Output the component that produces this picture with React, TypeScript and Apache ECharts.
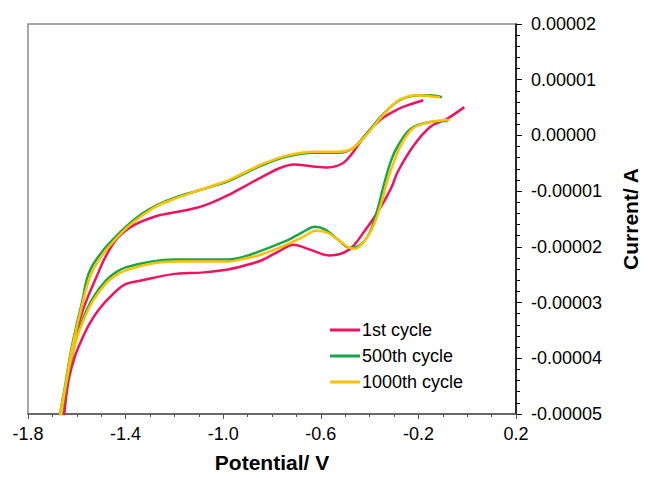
import React, { useEffect, useRef } from "react";
import * as echarts from "echarts";

const seriesNames = ["1st cycle", "500th cycle", "1000th cycle"];
const seriesColors = ["#F2135E", "#18A64A", "#FFC000"];
const xTickLabels = ["-1.8", "-1.4", "-1.0", "-0.6", "-0.2", "0.2"];

// 1st cycle: potential (V) and current (A), traced along the loop
const cycle1Potential = [
  -0.18, -0.232, -0.284, -0.352, -0.42, -0.472, -0.512, -0.572, -0.632, -0.712, -0.772, -0.844, -0.912, -0.98,
  -1.052, -1.112, -1.192, -1.272, -1.364, -1.432, -1.484, -1.52, -1.56, -1.588, -1.612, -1.632, -1.644, -1.652,
  -1.66,
  -1.648, -1.632, -1.608, -1.58, -1.548, -1.508, -1.452, -1.4, -1.332, -1.212, -1.08, -0.98, -0.912, -0.844,
  -0.772, -0.712, -0.644, -0.564, -0.484, -0.42, -0.364, -0.312, -0.284, -0.22, -0.152, -0.084, -0.012,
];
const cycle1Current = [
  0.632e-5, 0.56e-5, 0.47e-5, 0.295e-5, -0.007e-5, -0.327e-5, -0.504e-5, -0.575e-5, -0.558e-5, -0.522e-5, -0.593e-5, -0.753e-5, -0.913e-5, -1.073e-5,
  -1.215e-5, -1.304e-5, -1.375e-5, -1.446e-5, -1.606e-5, -1.837e-5, -2.192e-5, -2.547e-5, -2.956e-5, -3.311e-5, -3.737e-5, -4.146e-5, -4.59e-5, -5.0e-5,
  -5.48e-5,
  -4.856e-5, -4.359e-5, -3.968e-5, -3.666e-5, -3.382e-5, -3.115e-5, -2.849e-5, -2.671e-5, -2.6e-5, -2.494e-5, -2.458e-5, -2.405e-5, -2.334e-5, -2.245e-5,
  -2.08e-5, -1.961e-5, -2.05e-5, -2.156e-5, -2.05e-5, -1.712e-5, -1.357e-5, -0.948e-5, -0.647e-5, -0.185e-5, 0.153e-5, 0.295e-5, 0.508e-5,
];

// 500th cycle
const cycle500Potential = [
  -0.104, -0.152, -0.192, -0.232, -0.284, -0.352, -0.42, -0.472, -0.524, -0.632, -0.74, -0.844, -0.912, -0.98,
  -1.112, -1.192, -1.272, -1.34, -1.404, -1.472, -1.508, -1.54, -1.56, -1.58, -1.6, -1.628, -1.648, -1.668,
  -1.676,
  -1.66, -1.644, -1.624, -1.6, -1.572, -1.532, -1.48, -1.44, -1.4, -1.292, -1.2, -1.072, -0.98, -0.912, -0.844,
  -0.74, -0.672, -0.624, -0.58, -0.524, -0.484, -0.444, -0.404, -0.372, -0.34, -0.312, -0.284, -0.232, -0.152, -0.08,
];
const cycle500Current = [
  0.686e-5, 0.721e-5, 0.721e-5, 0.703e-5, 0.615e-5, 0.348e-5, -0.007e-5, -0.238e-5, -0.309e-5, -0.309e-5, -0.38e-5, -0.54e-5, -0.682e-5, -0.824e-5,
  -1.002e-5, -1.108e-5, -1.25e-5, -1.428e-5, -1.659e-5, -1.961e-5, -2.156e-5, -2.369e-5, -2.6e-5, -3.027e-5, -3.382e-5, -3.968e-5, -4.501e-5, -5.0e-5,
  -5.48e-5,
  -4.945e-5, -4.501e-5, -4.057e-5, -3.613e-5, -3.258e-5, -2.902e-5, -2.6e-5, -2.458e-5, -2.369e-5, -2.263e-5, -2.227e-5, -2.227e-5, -2.227e-5, -2.174e-5, -2.067e-5,
  -1.89e-5, -1.73e-5, -1.641e-5, -1.694e-5, -1.89e-5, -2.014e-5, -1.979e-5, -1.783e-5, -1.393e-5, -0.86e-5, -0.451e-5, -0.185e-5, 0.117e-5, 0.242e-5, 0.259e-5,
];

// 1000th cycle
const cycle1000Potential = [
  -0.112, -0.152, -0.192, -0.24, -0.292, -0.352, -0.42, -0.472, -0.524, -0.632, -0.74, -0.844, -0.912, -0.98,
  -1.112, -1.192, -1.272, -1.34, -1.404, -1.472, -1.508, -1.54, -1.56, -1.58, -1.6, -1.628, -1.648, -1.668,
  -1.676,
  -1.664, -1.648, -1.628, -1.604, -1.572, -1.532, -1.48, -1.44, -1.4, -1.292, -1.2, -1.072, -0.98, -0.912, -0.844,
  -0.74, -0.672, -0.62, -0.572, -0.524, -0.484, -0.46, -0.42, -0.384, -0.352, -0.324, -0.292, -0.264, -0.22, -0.152, -0.072,
];
const cycle1000Current = [
  0.686e-5, 0.703e-5, 0.721e-5, 0.703e-5, 0.597e-5, 0.33e-5, -0.025e-5, -0.238e-5, -0.291e-5, -0.291e-5, -0.362e-5, -0.522e-5, -0.664e-5, -0.806e-5,
  -1.002e-5, -1.126e-5, -1.268e-5, -1.464e-5, -1.694e-5, -2.014e-5, -2.227e-5, -2.476e-5, -2.725e-5, -3.08e-5, -3.435e-5, -4.004e-5, -4.536e-5, -5.0e-5,
  -5.48e-5,
  -5.0e-5, -4.554e-5, -4.092e-5, -3.684e-5, -3.311e-5, -2.956e-5, -2.654e-5, -2.512e-5, -2.423e-5, -2.298e-5, -2.263e-5, -2.263e-5, -2.263e-5, -2.21e-5, -2.138e-5,
  -1.961e-5, -1.819e-5, -1.712e-5, -1.748e-5, -1.89e-5, -2.014e-5, -2.032e-5, -1.89e-5, -1.623e-5, -1.215e-5, -0.771e-5, -0.38e-5, -0.114e-5, 0.135e-5, 0.242e-5, 0.277e-5,
];

const zip = (xs: number[], ys: number[]) => xs.map((x, i) => [x, ys[i]]);

const FONT = "'Liberation Sans', Arial, sans-serif";

export default function App() {
  const ref = useRef<HTMLDivElement>(null);
  useEffect(() => {
    if (!ref.current) return;
    const chart = echarts.init(ref.current, null, { renderer: "svg" });
    const datasets = [
      zip(cycle1Potential, cycle1Current),
      zip(cycle500Potential, cycle500Current),
      zip(cycle1000Potential, cycle1000Current),
    ];
    chart.setOption({
      animation: false,
      backgroundColor: "#ffffff",
      textStyle: { fontFamily: FONT },
      grid: {
        left: 28,
        right: 122,
        top: 24,
        bottom: 60,
        show: true,
        borderColor: "#8a8a8a",
        borderWidth: 1.5,
      },
      legend: {
        orient: "vertical",
        left: 325,
        top: 316,
        itemWidth: 30,
        itemHeight: 3,
        itemGap: 8,
        icon: "rect",
        data: seriesNames,
        textStyle: { fontSize: 18, color: "#000", fontFamily: FONT, padding: [0, 0, 0, -3] },
      },
      xAxis: {
        type: "value",
        min: -1.8,
        max: 0.2,
        interval: 0.4,
        name: "Potential/ V",
        nameLocation: "middle",
        nameGap: 38,
        nameTextStyle: { fontSize: 21, fontWeight: "bold", color: "#000", fontFamily: FONT },
        axisLine: { show: true, onZero: false, lineStyle: { color: "#555", width: 1.5 } },
        axisTick: { show: true, inside: false, length: 5, lineStyle: { color: "#555" } },
        minorTick: { show: true, splitNumber: 4, length: 3, lineStyle: { color: "#555" } },
        splitLine: { show: false },
        axisLabel: {
          margin: 11,
          fontSize: 18,
          color: "#000",
          fontFamily: FONT,
          formatter: (v: number) => {
            const idx = Math.round((v + 1.8) / 0.4);
            return xTickLabels[idx] ?? v.toFixed(1);
          },
        },
      },
      yAxis: {
        type: "value",
        position: "right",
        min: -5e-5,
        max: 2e-5,
        interval: 1e-5,
        name: "Current/ A",
        nameLocation: "middle",
        nameRotate: 90,
        nameGap: 104,
        nameTextStyle: { fontSize: 21, fontWeight: "bold", color: "#000", fontFamily: FONT },
        axisLine: { show: true, onZero: false, lineStyle: { color: "#000", width: 1.5 } },
        axisTick: { show: true, inside: false, length: 6, lineStyle: { color: "#000" } },
        minorTick: { show: true, splitNumber: 5, length: 4, lineStyle: { color: "#000" } },
        splitLine: { show: false },
        axisLabel: {
          margin: 15,
          fontSize: 18,
          color: "#000",
          fontFamily: FONT,
          formatter: (v: number) => {
            const r = Math.round(v * 1e5) / 1e5;
            return (Math.abs(r) < 1e-12 ? 0 : r).toFixed(5);
          },
        },
      },
      series: datasets.map((d, i) => ({
        name: seriesNames[i],
        type: "line",
        data: d,
        smooth: 0.35,
        showSymbol: false,
        symbol: "none",
        clip: true,
        lineStyle: { color: seriesColors[i], width: 2.5 },
        itemStyle: { color: seriesColors[i] },
      })),
    });
    return () => chart.dispose();
  }, []);
  return (
    <div
      ref={ref}
      style={{ position: "fixed", left: 0, top: 0, width: 649, height: 478, background: "#fff" }}
    />
  );
}
